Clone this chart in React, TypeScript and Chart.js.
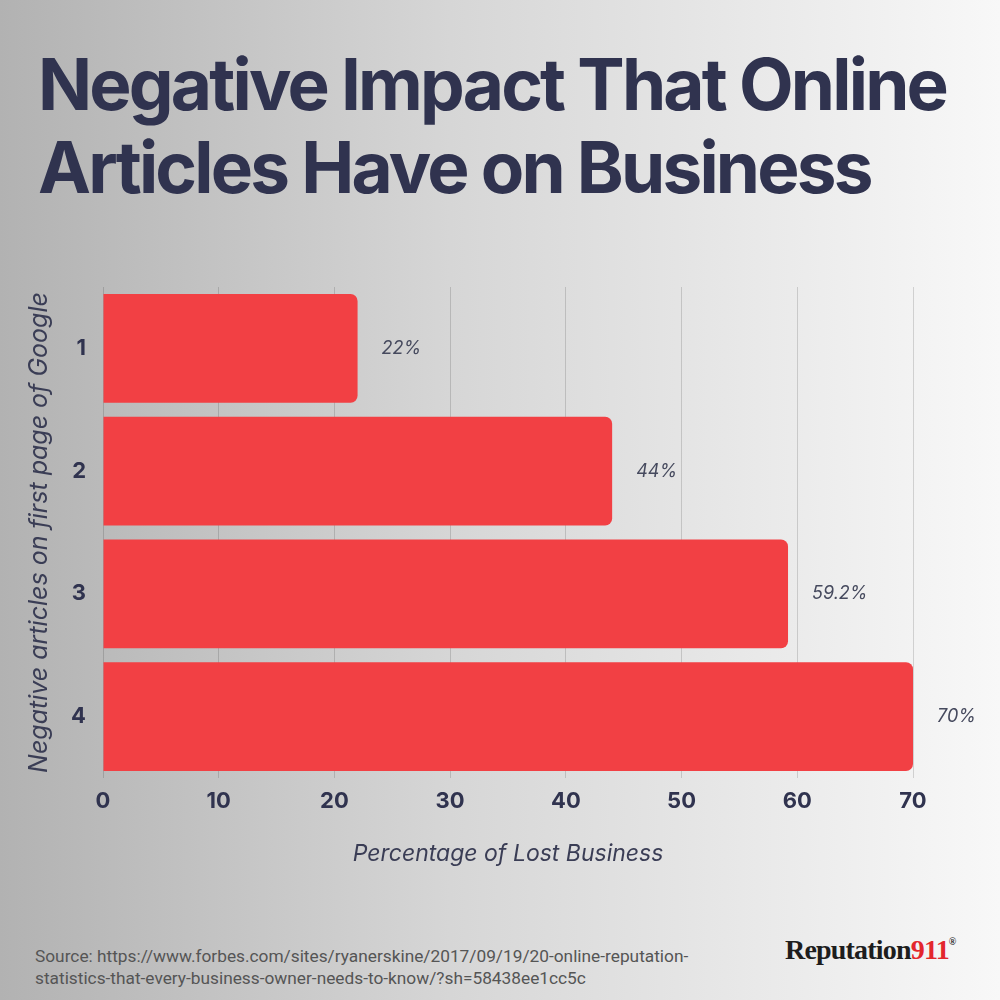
import React, { useEffect, useRef } from "react";
import { Chart, registerables } from "chart.js";

Chart.register(...registerables);

const categories = ["1", "2", "3", "4"];
const lostBusiness = [22, 44, 59.2, 70];
const xTicks = [0, 10, 20, 30, 40, 50, 60, 70];

const TITLE_LINES = ["Negative Impact That Online", "Articles Have on Business"];
const Y_TITLE = "Negative articles on first page of Google";
const X_TITLE = "Percentage of Lost Business";
const SOURCE_LINES = [
  "Source: https://www.forbes.com/sites/ryanerskine/2017/09/19/20-online-reputation-",
  "statistics-that-every-business-owner-needs-to-know/?sh=58438ee1cc5c",
];

const NAVY = "#30334f";
const BAR_RED = "#f24044";
const FONT = "Inter, 'Noto Sans', sans-serif";

const valueLabels = {
  id: "valueLabels",
  afterDatasetsDraw(chart: any) {
    const ctx = chart.ctx;
    const meta = chart.getDatasetMeta(0);
    ctx.save();
    ctx.font = `italic 400 18px ${FONT}`;
    ctx.fillStyle = "#464a5e";
    ctx.textAlign = "left";
    ctx.textBaseline = "middle";
    meta.data.forEach((bar: any, i: number) => {
      ctx.fillText(`${lostBusiness[i]}%`, bar.x + 24, bar.y);
    });
    ctx.restore();
  },
};

export default function App() {
  const ref = useRef<HTMLCanvasElement | null>(null);

  useEffect(() => {
    if (!ref.current) return;
    const chart = new Chart(ref.current, {
      type: "bar",
      data: {
        labels: categories,
        datasets: [
          {
            data: lostBusiness,
            backgroundColor: BAR_RED,
            borderRadius: 7,
            borderSkipped: "start",
            barPercentage: 0.886,
            categoryPercentage: 1,
          },
        ],
      },
      options: {
        indexAxis: "y",
        responsive: false,
        animation: false,
        devicePixelRatio: 1,
        layout: { padding: { top: 29, left: 20, right: 87, bottom: 0 } },
        plugins: {
          legend: { display: false },
          tooltip: { enabled: false },
        },
        scales: {
          x: {
            min: 0,
            max: 70,
            afterBuildTicks: (s: any) => {
              s.ticks = xTicks.map((v) => ({ value: v }));
            },
            grid: { color: "rgba(0,0,0,0.14)", lineWidth: 1, drawTicks: false },
            border: { display: false },
            ticks: {
              padding: 10,
              color: NAVY,
              font: { family: FONT, size: 22, weight: "bold" },
            },
            title: {
              display: true,
              text: X_TITLE,
              color: "#3a3d55",
              font: { family: FONT, size: 23, style: "italic", weight: "normal" },
              padding: { top: 16, bottom: 4 },
            },
          },
          y: {
            afterFit: (s: any) => {
              s.width = 83;
            },
            grid: { display: false },
            border: { display: false },
            ticks: {
              padding: 9,
              color: NAVY,
              font: { family: FONT, size: 22, weight: "bold" },
            },
            title: {
              display: true,
              text: Y_TITLE,
              color: "#3a3d55",
              font: { family: FONT, size: 25, style: "italic", weight: "normal" },
              padding: { top: 4, bottom: 4 },
            },
          },
        },
      },
      plugins: [valueLabels],
    });
    return () => chart.destroy();
  }, []);

  return (
    <div
      style={{
        position: "absolute",
        left: 0,
        top: 0,
        width: 1000,
        height: 1000,
        overflow: "hidden",
        background: "linear-gradient(to right, #b2b2b2 0%, #d6d6d6 45%, #f8f8f8 100%)",
      }}
    >
      <div
        style={{
          position: "absolute",
          left: 38,
          top: 43,
          fontFamily: FONT,
          fontWeight: 700,
          fontSize: 71,
          lineHeight: "83px",
          letterSpacing: "-2.8px",
          color: NAVY,
          whiteSpace: "nowrap",
        }}
      >
        {TITLE_LINES.map((l) => (
          <div key={l}>{l}</div>
        ))}
      </div>
      <canvas
        ref={ref}
        width={1000}
        height={614}
        style={{ position: "absolute", left: 0, top: 258, width: 1000, height: 614 }}
      />
      <div
        style={{
          position: "absolute",
          left: 35,
          top: 945,
          fontFamily: "'Liberation Sans Narrow', Roboto, sans-serif",
          fontSize: 17.3,
          lineHeight: "22px",
          color: "#555",
          whiteSpace: "nowrap",
        }}
      >
        {SOURCE_LINES.map((l) => (
          <div key={l}>{l}</div>
        ))}
      </div>
      <div
        style={{
          position: "absolute",
          left: 785,
          top: 934,
          fontFamily: "'Liberation Serif', 'DejaVu Serif', serif",
          fontSize: 28,
          fontWeight: 700,
          color: "#1d1d1d",
          whiteSpace: "nowrap",
          letterSpacing: "-0.8px",
        }}
      >
        Reputation<span style={{ color: "#e3262d" }}>911</span>
        <sup style={{ fontSize: 10, verticalAlign: "top", position: "relative", top: 2 }}>®</sup>
      </div>
    </div>
  );
}
